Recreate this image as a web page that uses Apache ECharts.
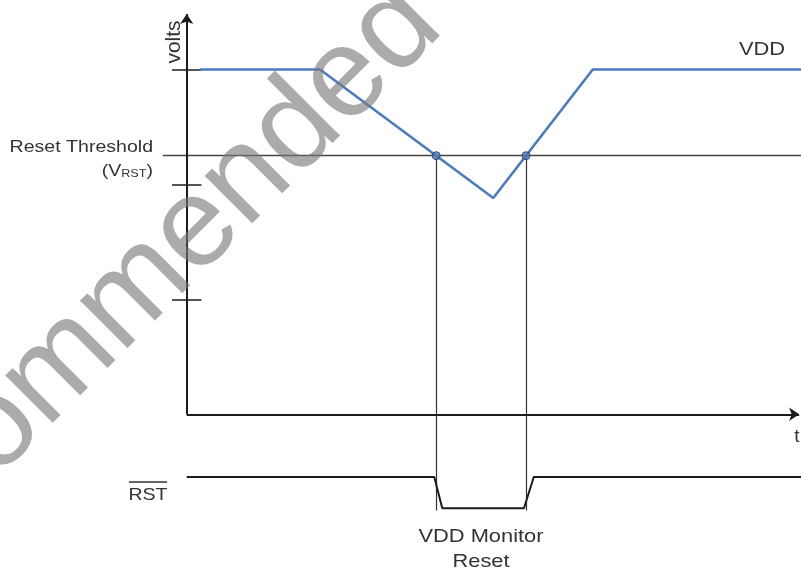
<!DOCTYPE html>
<html>
<head>
<meta charset="utf-8">
<script src="https://cdn.jsdelivr.net/npm/echarts@6/dist/echarts.min.js"></script>
<style>
  html, body { margin: 0; padding: 0; background: #fff; }
  #chart { width: 801px; height: 571px; }
</style>
</head>
<body>
<div id="chart"></div>
<script>
// time in arbitrary units, levels in volts
const vddTime = [2.1, 21.7, 49.9, 66.1, 100];
const vddVolts = [3.3, 3.3, 2.07, 3.3, 3.3];
const resetThreshold = 2.475;
const voltTicks = [3.3, 2.2, 1.1];
const rstTime = [0, 40.3, 41.6, 54.9, 56.5, 100];
const rstLevel = [-0.6, -0.6, -0.9, -0.9, -0.6, -0.6];
const markerBottom = -0.92;

// where VDD crosses the reset threshold
const crossings = [];
for (let i = 1; i < vddTime.length; i++) {
  const v0 = vddVolts[i - 1], v1 = vddVolts[i];
  if ((v0 - resetThreshold) * (v1 - resetThreshold) < 0) {
    const f = (resetThreshold - v0) / (v1 - v0);
    crossings.push(vddTime[i - 1] + f * (vddTime[i] - vddTime[i - 1]));
  }
}

const ink = '#1c1c1c';
const textColor = '#333';
const font = 'Liberation Sans, Arial, sans-serif';

const chart = echarts.init(document.getElementById('chart'));
chart.setOption({
  animation: false,
  grid: { left: 156, width: 645, top: 12, height: 561 },
  xAxis: { type: 'value', min: -5, max: 100, show: false },
  yAxis: { type: 'value', min: -1.5, max: 3.85, show: false },
  series: [
    {
      // threshold
      type: 'lines',
      coordinateSystem: 'cartesian2d',
      lineStyle: { color: '#444', width: 1.3, opacity: 1 },
      data: [{ coords: [[-3.9, resetThreshold], [100, resetThreshold]] }],
      z: 2
    },
    {
      // ticks on the volts axis
      type: 'lines',
      coordinateSystem: 'cartesian2d',
      lineStyle: { color: ink, width: 1.6, opacity: 1 },
      data: voltTicks.map(v => ({ coords: [[-2.4, v], [2.4, v]] })),
      z: 2
    },
    {
      // axes with arrows
      type: 'lines',
      coordinateSystem: 'cartesian2d',
      symbol: ['none', 'arrow'],
      symbolSize: 10,
      lineStyle: { color: ink, width: 2, opacity: 1 },
      data: [
        { coords: [[0, 0], [0, 3.83]] },
        { coords: [[0, 0], [99.7, 0]] }
      ],
      z: 3
    },
    {
      // reset markers
      type: 'lines',
      coordinateSystem: 'cartesian2d',
      lineStyle: { color: '#333', width: 1.2, opacity: 1 },
      data: crossings.map(t => ({ coords: [[t, resetThreshold], [t, markerBottom]] })),
      z: 2
    },
    {
      name: 'RST',
      type: 'line',
      symbol: 'none',
      lineStyle: { color: ink, width: 2 },
      data: rstTime.map((t, i) => [t, rstLevel[i]]),
      z: 3
    },
    {
      name: 'VDD',
      type: 'line',
      symbol: 'none',
      lineStyle: { color: '#4a7bc2', width: 2.6 },
      data: vddTime.map((t, i) => [t, vddVolts[i]]),
      z: 4
    },
    {
      type: 'scatter',
      symbolSize: 8,
      itemStyle: { color: '#5079b4', borderColor: '#22395e', borderWidth: 1 },
      data: crossings.map(t => [t, resetThreshold]),
      z: 5
    }
  ],
  graphic: [
    {
      type: 'text', x: 174, y: 42, rotation: Math.PI / 2,
      style: { text: 'volts', font: '21px ' + font, fill: textColor, align: 'center', verticalAlign: 'middle' }
    },
    {
      type: 'text', x: 762, y: 50, scaleX: 1.15,
      style: { text: 'VDD', font: '19px ' + font, fill: textColor, align: 'center', verticalAlign: 'middle' }
    },
    {
      type: 'text', x: 153, y: 147, scaleX: 1.15,
      style: { text: 'Reset Threshold', font: '17px ' + font, fill: textColor, align: 'right', verticalAlign: 'middle' }
    },
    {
      type: 'text', x: 153, y: 171, scaleX: 1.15,
      style: {
        text: '(V{sub|RST})', font: '17px ' + font, fill: textColor, align: 'right', verticalAlign: 'middle',
        rich: { sub: { fontSize: 11, fontFamily: font, fill: textColor, padding: [6, 0, 0, 0] } }
      }
    },
    {
      type: 'text', x: 148, y: 495, scaleX: 1.15,
      style: { text: 'RST', font: '17px ' + font, fill: textColor, align: 'center', verticalAlign: 'middle' }
    },
    {
      type: 'line', shape: { x1: 129, y1: 482, x2: 167, y2: 482 },
      style: { stroke: textColor, lineWidth: 1.3 }
    },
    {
      type: 'text', x: 797, y: 437,
      style: { text: 't', font: '19px ' + font, fill: textColor, align: 'center', verticalAlign: 'middle' }
    },
    {
      type: 'text', x: 481, y: 537, scaleX: 1.15,
      style: { text: 'VDD Monitor', font: '19px ' + font, fill: textColor, align: 'center', verticalAlign: 'middle' }
    },
    {
      type: 'text', x: 481, y: 562, scaleX: 1.15,
      style: { text: 'Reset', font: '19px ' + font, fill: textColor, align: 'center', verticalAlign: 'middle' }
    },
    {
      // watermark
      type: 'text', x: 421, y: 5, rotation: Math.PI / 4, z: 100,
      style: {
        text: 'Not Recommended', font: '127px ' + font,
        fill: 'rgba(120,120,120,0.62)', align: 'right', verticalAlign: 'middle'
      }
    }
  ]
});
</script>
</body>
</html>
